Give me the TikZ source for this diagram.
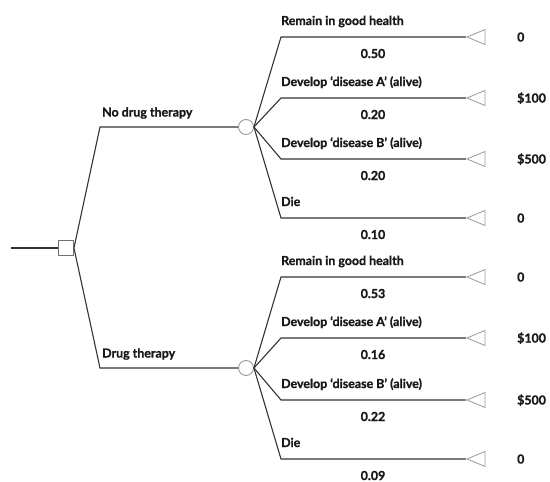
\documentclass[tikz,border=0pt]{standalone}
\usepackage{fontspec}
\setmainfont{Lato}[BoldFeatures={FakeBold=1.2}]
\usetikzlibrary{shapes.geometric, positioning}

\begin{document}
\begin{tikzpicture}[x=1pt, y=-1pt,
    line/.style={draw=black!80, line width=1.1pt},
    decision/.style={rectangle, draw=black!55, fill=white, line width=0.9pt, minimum size=15pt, inner sep=0pt},
    chance/.style={circle, draw=black!40, fill=white, line width=0.9pt, minimum size=15pt, inner sep=0pt},
    outcome/.style={isosceles triangle, isosceles triangle stretches, shape border rotate=180, draw=black!40, fill=white, line width=0.8pt, minimum width=15pt, minimum height=18pt, inner sep=0pt},
    lbl/.style={font=\fontsize{12.4}{14}\selectfont\bfseries, text=black!90, inner sep=0pt}]
\useasboundingbox (0,0) rectangle (550,482);
% decision node
\coordinate (root) at (11,248);
\node[decision] (dec) at (66,248) {};
\draw[line] (root) -- (dec);
% the two strategies
\foreach \g/\cy/\nm in {1/127/No drug therapy, 2/368/Drug therapy} {
    \coordinate (k\g) at (100,\cy);
    \node[chance] (c\g) at (246,\cy) {};
    \draw[line] (dec.east) -- (k\g) -- (c\g);
    \node[lbl, anchor=base west] (s\g) at (102,\cy-10.5) {\nm};
}
% chance branches
\foreach \g/\i/\y/\txt/\p/\val in {
    1/1/37/Remain in good health/0.50/0,
    1/2/98/Develop ‘disease A’ (alive)/0.20/\$100,
    1/3/159/Develop ‘disease B’ (alive)/0.20/\$500,
    1/4/218/Die/0.10/0,
    2/1/277/Remain in good health/0.53/0,
    2/2/338/Develop ‘disease A’ (alive)/0.16/\$100,
    2/3/400/Develop ‘disease B’ (alive)/0.22/\$500,
    2/4/459/Die/0.09/0} {
    \coordinate (b\g\i) at (281,\y);
    \node[outcome] (t\g\i) at (480,\y) {};
    \draw[line] (c\g.east) -- (b\g\i) -- (t\g\i.apex);
    \node[lbl, anchor=base west] (n\g\i) at (281,\y-12) {\txt};
    \node[lbl, anchor=base] (p\g\i) at (373,\y+21) {\p};
    \node[lbl, anchor=base west] (v\g\i) at (517,\y+4.5) {\val};
}
\end{tikzpicture}
\end{document}
